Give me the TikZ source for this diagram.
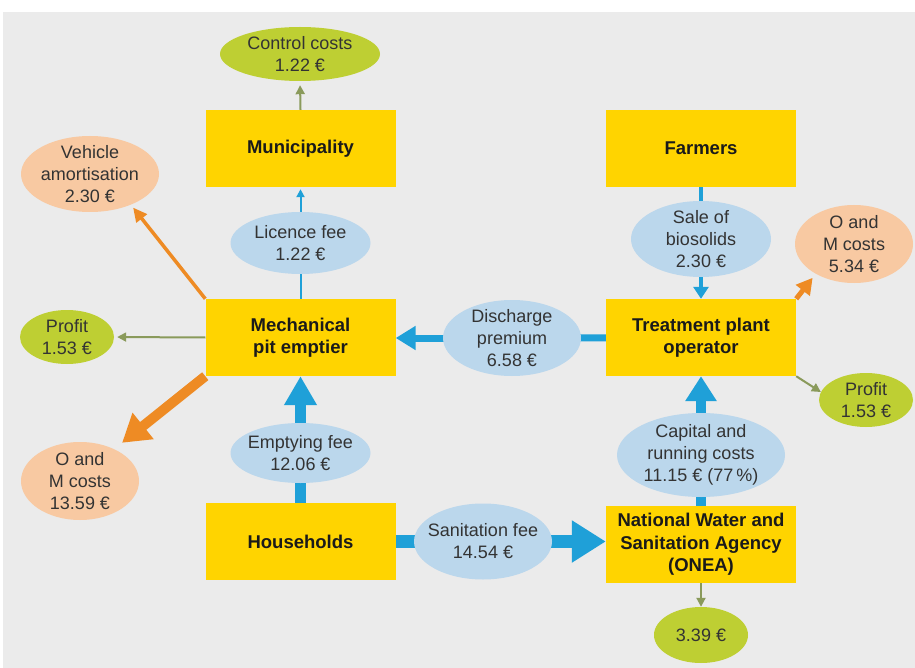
\documentclass[tikz,border=0pt]{standalone}
\usepackage{fontspec}
\setmainfont{Liberation Sans}
\usetikzlibrary{arrows.meta,shapes.geometric}
\pgfdeclarelayer{background}
\pgfsetlayers{background,main}
\definecolor{bgc}{HTML}{EBEBEB}
\definecolor{yel}{HTML}{FFD400}
\definecolor{lblue}{HTML}{BBD7EC}
\definecolor{fblue}{HTML}{1FA0D8}
\definecolor{orng}{HTML}{EE8B24}
\definecolor{peach}{HTML}{F8C9A2}
\definecolor{lime}{HTML}{BECF33}
\definecolor{olive}{HTML}{8A9A5B}
\definecolor{txt}{HTML}{333333}
\definecolor{txtb}{HTML}{1A1A1A}
\begin{document}
\begin{tikzpicture}[x=1pt,y=-1pt,
  box/.style={rectangle, fill=yel, minimum width=190pt, minimum height=77pt, inner sep=0pt,
    align=center, font=\fontsize{18.5}{22.5}\selectfont\bfseries, text=txtb},
  oval/.style={ellipse, inner sep=0pt},
  etext/.style={align=center, font=\fontsize{18}{22}\selectfont, text=txt, inner sep=0pt},
  bflow/.style={draw=fblue},
  oflow/.style={draw=orng},
  gflow/.style={draw=olive, line width=2pt, -{Triangle[length=9pt,width=9pt]}}
]
\useasboundingbox (0,0) rectangle (915,668);

% boxes
\node[box] (mun) at (300.5,148.5) {Municipality};
\node[box] (farm) at (701,148.5) {Farmers};
\node[box] (pit) at (300.5,337.5) {Mechanical\\pit emptier};
\node[box] (treat) at (701,337.5) {Treatment plant\\operator};
\node[box] (hh) at (300.5,541.5) {Households};
\node[box] (onea) at (701,544.5) {National Water and\\Sanitation Agency\\(ONEA)};

% ellipses
\node[oval, fill=lime, minimum width=160pt, minimum height=54pt] (ctrl) at (300,54) {};
\node[etext] (ctrl-t) at (ctrl) {Control costs\\1.22 €};
\node[oval, fill=peach, minimum width=138pt, minimum height=76pt] (veh) at (90,174) {};
\node[etext] (veh-t) at (veh) {Vehicle\\amortisation\\2.30 €};
\node[oval, fill=lblue, minimum width=140pt, minimum height=62pt] (lic) at (300.5,243) {};
\node[etext] (lic-t) at (lic) {Licence fee\\1.22 €};
\node[oval, fill=lime, minimum width=94pt, minimum height=54pt] (profL) at (67,337) {};
\node[etext] (profL-t) at (profL) {Profit\\1.53 €};
\node[oval, fill=lblue, minimum width=138pt, minimum height=76pt] (dis) at (512,338) {};
\node[etext] (dis-t) at (dis) {Discharge\\premium\\6.58 €};
\node[oval, fill=lblue, minimum width=140pt, minimum height=76pt] (sale) at (701,239) {};
\node[etext] (sale-t) at (sale) {Sale of\\biosolids\\2.30 €};
\node[oval, fill=peach, minimum width=118pt, minimum height=78pt] (omR) at (854,244) {};
\node[etext] (omR-t) at (omR) {O and\\M costs\\5.34 €};
\node[oval, fill=lime, minimum width=94pt, minimum height=54pt] (profR) at (866,400) {};
\node[etext] (profR-t) at (profR) {Profit\\1.53 €};
\node[oval, fill=peach, minimum width=118pt, minimum height=78pt] (omL) at (80,481) {};
\node[etext] (omL-t) at (omL) {O and\\M costs\\13.59 €};
\node[oval, fill=lblue, minimum width=140pt, minimum height=60pt] (emp) at (300.5,453) {};
\node[etext] (emp-t) at (emp) {Emptying fee\\12.06 €};
\node[oval, fill=lblue, minimum width=138pt, minimum height=76pt] (san) at (483,541.5) {};
\node[etext] (san-t) at (san) {Sanitation fee\\14.54 €};
\node[oval, fill=lblue, minimum width=168pt, minimum height=84pt] (cap) at (701,455) {};
\node[etext] (cap-t) at (cap) {Capital and\\running costs\\11.15 € (77\,\%)};
\node[oval, fill=lime, minimum width=94pt, minimum height=56pt] (last) at (701,635) {};
\node[etext] (last-t) at (last) {3.39 €};

\begin{pgfonlayer}{background}
\fill[bgc] (3,12) rectangle (915,668);
% households -> pit emptier
\draw[bflow, line width=11pt] (hh.center) -- (emp.center);
\draw[bflow, line width=11pt, -{Triangle[length=29pt,width=31pt]}] (emp.center) -- (pit.south);
% households -> ONEA
\draw[bflow, line width=13pt] (hh.center) -- (san.center);
\draw[bflow, line width=13pt, -{Triangle[length=34pt,width=40pt]}] (san.center) -- (san.center -| onea.west);
% ONEA -> treatment
\draw[bflow, line width=10pt] (onea.center) -- (cap.center);
\draw[bflow, line width=10pt, -{Triangle[length=25pt,width=30pt]}] (cap.center) -- (treat.south);
% treatment -> pit emptier
\draw[bflow, line width=7pt] (treat.center) -- (dis.center);
\draw[bflow, line width=7pt, -{Triangle[length=20pt,width=23pt]}] (dis.center) -- (dis.center -| pit.east);
% farmers -> treatment
\draw[bflow, line width=4pt] (farm.center) -- (sale.center);
\draw[bflow, line width=4pt, -{Triangle[length=12pt,width=15pt]}] (sale.center) -- (treat.north);
% pit emptier -> municipality
\draw[bflow, line width=2pt] (pit.center) -- (lic.center);
\draw[bflow, line width=2pt, -{Triangle[length=8pt,width=8pt]}, shorten >=2pt] (lic.center) -- (mun.south);
% outflows
\draw[gflow, shorten >=4pt] (mun.north) -- (ctrl.south);
\draw[gflow, shorten >=3pt] (pit.west) -- (profL.east);
\draw[gflow] (treat.south east) -- (profR.170);
\draw[gflow] (onea.south) -- (last.north);
\draw[oflow, line width=3.5pt, -{Triangle[length=14pt,width=13pt]}, shorten >=3.5pt] (pit.north west) -- (veh.-37);
\draw[oflow, line width=10pt, -{Triangle[length=27pt,width=32pt]}, shorten >=10pt] (pit.south west) -- (omL.43);
\draw[oflow, line width=5pt, -{Triangle[length=16pt,width=17pt]}, shorten >=5pt] (treat.north east) -- (omR.218);
\end{pgfonlayer}
\end{tikzpicture}
\end{document}
